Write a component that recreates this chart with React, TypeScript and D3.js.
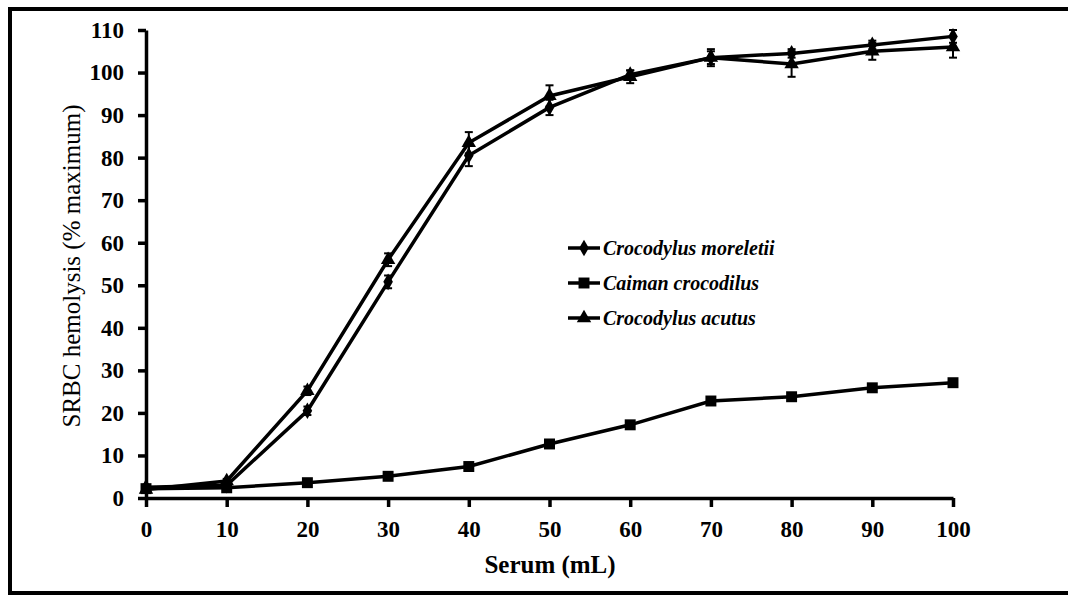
import { useEffect, useRef } from 'react';
import * as d3 from 'd3';

const serum = [0, 10, 20, 30, 40, 50, 60, 70, 80, 90, 100];
const moreletii = [2.5, 3, 20.5, 50.8, 80.5, 91.8, 99.5, 103.5, 104.5, 106.5, 108.5];
const moreletiiErr = [0.5, 0.5, 1, 1.5, 2.5, 1.8, 1, 1.5, 1, 1, 1.5];
const caiman = [2.2, 2.4, 3.6, 5.1, 7.4, 12.7, 17.2, 22.8, 23.8, 25.9, 27.1];
const caimanErr = [0.3, 0.3, 0.3, 0.4, 0.4, 0.5, 0.5, 0.6, 0.5, 0.5, 0.5];
const acutus = [2, 4, 25.2, 56, 83.5, 94.5, 99, 103.5, 102, 105, 106];
const acutusErr = [0.5, 0.5, 1, 1.5, 2.5, 2.5, 1.5, 2, 3, 2, 2.5];
const yTicks = [0, 10, 20, 30, 40, 50, 60, 70, 80, 90, 100, 110];

const series = [
  { name: 'Crocodylus moreletii', values: moreletii, err: moreletiiErr, symbol: d3.symbolDiamond, size: 80 },
  { name: 'Caiman crocodilus', values: caiman, err: caimanErr, symbol: d3.symbolSquare, size: 120 },
  { name: 'Crocodylus acutus', values: acutus, err: acutusErr, symbol: d3.symbolTriangle, size: 90 },
];

export default function App() {
  const svgRef = useRef<SVGSVGElement>(null);

  useEffect(() => {
    if (!svgRef.current) return;
    const svg = d3.select(svgRef.current);
    svg.selectAll('*').remove();

    const x = d3.scaleLinear().domain([0, 100]).range([146, 953]);
    const y = d3.scaleLinear().domain([0, 110]).range([498, 30]);

    // frame, right side runs off the picture
    svg.append('rect')
      .attr('x', 10).attr('y', 9).attr('width', 1080).attr('height', 584)
      .attr('fill', 'none').attr('stroke', '#000').attr('stroke-width', 4);

    const yAxis = svg.append('g')
      .attr('transform', `translate(${x(0)},0)`)
      .call(d3.axisLeft(y).tickValues(yTicks).tickSize(8).tickSizeOuter(0).tickPadding(14));
    yAxis.select('.domain').attr('stroke-width', 3.5);
    yAxis.selectAll('.tick line').attr('stroke-width', 3.5);
    yAxis.selectAll('.tick text')
      .attr('font-family', '"Liberation Serif", serif')
      .attr('font-weight', 'bold').attr('font-size', 23).attr('fill', '#000');

    const xAxis = svg.append('g')
      .attr('transform', `translate(0,${y(0)})`)
      .call(d3.axisBottom(x).tickValues(serum).tickSize(9).tickSizeOuter(0).tickPadding(14));
    xAxis.select('.domain').attr('stroke-width', 3.5);
    xAxis.selectAll('.tick line').attr('stroke-width', 3.5);
    xAxis.selectAll('.tick text')
      .attr('font-family', '"Liberation Serif", serif')
      .attr('font-weight', 'bold').attr('font-size', 23).attr('fill', '#000');

    svg.append('text')
      .attr('x', 550).attr('y', 573)
      .attr('text-anchor', 'middle')
      .attr('font-family', '"Liberation Serif", serif')
      .attr('font-weight', 'bold').attr('font-size', 25)
      .text('Serum (mL)');

    svg.append('text')
      .attr('transform', 'translate(80,266) rotate(-90)')
      .attr('text-anchor', 'middle')
      .attr('font-family', '"Liberation Serif", serif')
      .attr('font-size', 25)
      .text('SRBC hemolysis (% maximum)');

    const line = d3.line<number>()
      .x((_, i) => x(serum[i]))
      .y(d => y(d));

    series.forEach(s => {
      const g = svg.append('g');
      g.append('path')
        .attr('d', line(s.values))
        .attr('fill', 'none').attr('stroke', '#000').attr('stroke-width', 3.5);

      s.values.forEach((v, i) => {
        const cx = x(serum[i]);
        const y1 = y(v + s.err[i]);
        const y2 = y(v - s.err[i]);
        g.append('line').attr('x1', cx).attr('x2', cx).attr('y1', y1).attr('y2', y2)
          .attr('stroke', '#000').attr('stroke-width', 2);
        [y1, y2].forEach(cy => {
          g.append('line').attr('x1', cx - 4).attr('x2', cx + 4).attr('y1', cy).attr('y2', cy)
            .attr('stroke', '#000').attr('stroke-width', 2);
        });
        g.append('path')
          .attr('d', d3.symbol().type(s.symbol).size(s.size)())
          .attr('transform', `translate(${cx},${y(v)})`)
          .attr('fill', '#000');
      });
    });

    // legend
    const legend = svg.append('g').attr('transform', 'translate(568,248)');
    series.forEach((s, i) => {
      const row = legend.append('g').attr('transform', `translate(0,${i * 35})`);
      row.append('line').attr('x1', 0).attr('x2', 32).attr('y1', 0).attr('y2', 0)
        .attr('stroke', '#000').attr('stroke-width', 3.5);
      row.append('path')
        .attr('d', d3.symbol().type(s.symbol).size(s.size)())
        .attr('transform', 'translate(16,0)')
        .attr('fill', '#000');
      row.append('text')
        .attr('x', 35).attr('y', 7)
        .attr('font-family', '"Liberation Serif", serif')
        .attr('font-weight', 'bold').attr('font-style', 'italic').attr('font-size', 20)
        .text(s.name);
    });
  }, []);

  return (
    <div style={{ position: 'absolute', left: 0, top: 0 }}>
      <svg ref={svgRef} width={1068} height={596} style={{ display: 'block', background: '#fff' }} />
    </div>
  );
}
